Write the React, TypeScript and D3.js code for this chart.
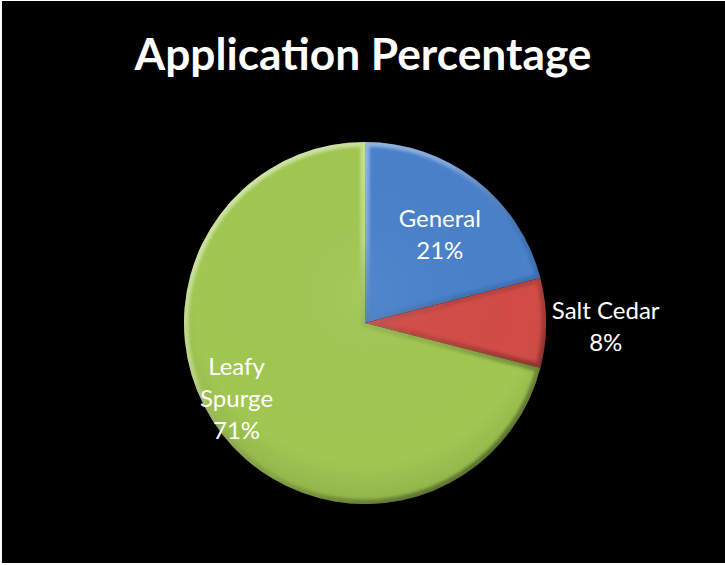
import * as d3 from 'd3';

const categories = ['General', 'Salt Cedar', 'Leafy Spurge'];
const shares = [21, 8, 71];
const colors = ['#4981ca', '#d24c47', '#a1c752'];
const labelLines = [['General', '21%'], ['Salt Cedar', '8%'], ['Leafy', 'Spurge', '71%']];

const W = 725;
const H = 565;
const cx = 365;
const cy = 323;
const R = 181;

// label radius as a fraction of R (Salt Cedar sits outside the pie)
const labelR = [0.62, 1.33, 0.8];
const labelNudge = [[6, 0], [0, 4], [-14, -13]];

export default function App() {
  const pie = d3.pie<number>().sort(null).value(d => d)(shares);
  const arc = d3.arc<d3.PieArcDatum<number>>().innerRadius(0).outerRadius(R);
  const font = 'Lato, "Open Sans", sans-serif';
  const lh = 32;

  return (
    <svg width={W} height={H} style={{ display: 'block', position: 'absolute', left: 0, top: 0 }}>
      <defs>
        {/* gradients are in the slice's local space (origin = pie centre) */}
        <linearGradient id="bevel" gradientUnits="userSpaceOnUse" x1={-R} y1={-R} x2={R * 0.7} y2={R}>
          <stop offset="0%" stopColor="#fff" stopOpacity={0.6} />
          <stop offset="40%" stopColor="#fff" stopOpacity={0.3} />
          <stop offset="65%" stopColor="#000" stopOpacity={0.1} />
          <stop offset="100%" stopColor="#000" stopOpacity={0.45} />
        </linearGradient>
        <radialGradient id="shade" gradientUnits="userSpaceOnUse" cx={0} cy={-30} r={R * 1.25}>
          <stop offset="0%" stopColor="#fff" stopOpacity={0.05} />
          <stop offset="75%" stopColor="#000" stopOpacity={0} />
          <stop offset="100%" stopColor="#000" stopOpacity={0.14} />
        </radialGradient>
        <filter id="soft" x="-10%" y="-10%" width="120%" height="120%">
          <feGaussianBlur stdDeviation="1.5" />
        </filter>
        {pie.map((p, i) => (
          <clipPath id={`clip-${i}`} key={i}>
            <path d={arc(p) || ''} />
          </clipPath>
        ))}
      </defs>
      <rect x={0} y={0} width={W} height={H} fill="#fff" />
      <rect x={2} y={1} width={W - 2} height={H - 3} fill="#000" />
      <text
        x={363}
        y={70}
        textAnchor="middle"
        fontFamily={font}
        fontWeight="bold"
        fontSize={44}
        fill="#fff"
        textLength={457}
        lengthAdjust="spacingAndGlyphs"
      >
        Application Percentage
      </text>
      <g transform={`translate(${cx},${cy})`}>
        {pie.map((p, i) => (
          <g key={categories[i]}>
            <path d={arc(p) || ''} fill={colors[i]} />
            <path d={arc(p) || ''} fill="url(#shade)" />
            <g clipPath={`url(#clip-${i})`}>
              <path
                d={arc(p) || ''}
                fill="none"
                stroke="url(#bevel)"
                strokeWidth={9}
                strokeLinejoin="round"
                filter="url(#soft)"
              />
            </g>
          </g>
        ))}
      </g>
      {pie.map((p, i) => {
        const mid = (p.startAngle + p.endAngle) / 2;
        const r = R * labelR[i];
        const x = cx + Math.sin(mid) * r + labelNudge[i][0];
        const y = cy - Math.cos(mid) * r + labelNudge[i][1];
        const lines = labelLines[i];
        const top = y - ((lines.length - 1) * lh) / 2;
        return (
          <text key={`l-${i}`} textAnchor="middle" fontFamily={font} fontSize={24} fill="#fff">
            {lines.map((t, j) => (
              <tspan key={j} x={x} y={top + j * lh} dy="0.35em">
                {t}
              </tspan>
            ))}
          </text>
        );
      })}
    </svg>
  );
}
